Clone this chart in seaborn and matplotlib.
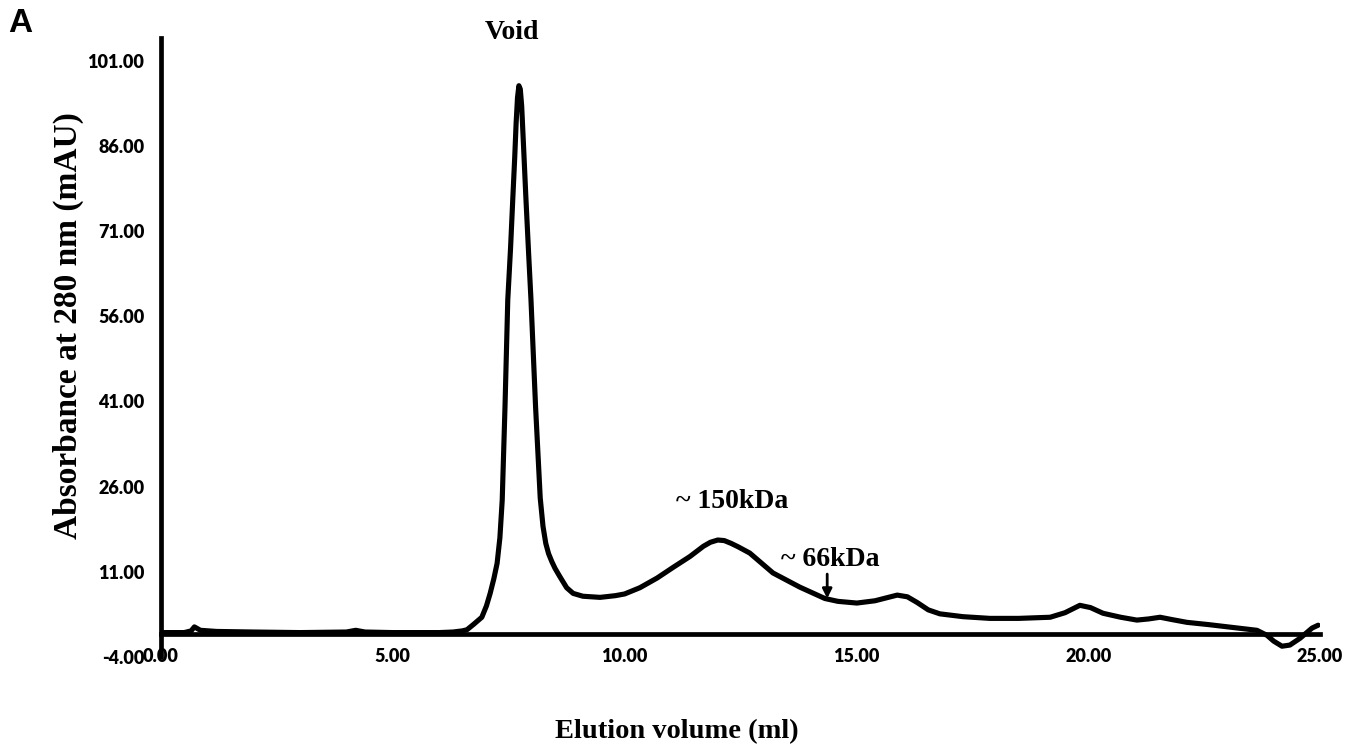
import matplotlib
matplotlib.use("Agg")
import matplotlib.pyplot as plt
import seaborn as sns
import pandas as pd

# Elution volume (ml) and absorbance (mAU)
volume = [0.0, 0.5, 0.65, 0.72, 0.85, 1.2, 2.0, 3.0, 4.0, 4.2, 4.4, 5.0, 5.5, 6.0,
          6.3, 6.5, 6.6, 6.75, 6.92, 7.02, 7.10, 7.18, 7.25, 7.31, 7.36, 7.42,
          7.48, 7.54, 7.59, 7.63, 7.66, 7.69, 7.72, 7.75, 7.78, 7.82, 7.87, 7.93,
          7.98, 8.08, 8.18, 8.24, 8.30, 8.36, 8.43, 8.50, 8.60, 8.75, 8.89, 9.10,
          9.47, 9.80, 10.0, 10.33, 10.70, 11.05, 11.41, 11.70, 11.85, 12.01, 12.15,
          12.3, 12.45, 12.70, 13.2, 13.78, 14.32, 14.6, 15.01, 15.4, 15.88, 16.1,
          16.31, 16.55, 16.80, 17.3, 17.88, 18.5, 19.18, 19.5, 19.82, 20.05, 20.32,
          20.7, 21.05, 21.3, 21.55, 21.8, 22.13, 22.6, 23.12, 23.64, 23.86, 24.0,
          24.18, 24.35, 24.57, 24.83, 24.96]
absorbance = [0.3, 0.3, 0.6, 1.3, 0.7, 0.5, 0.4, 0.3, 0.4, 0.7, 0.4, 0.3, 0.3, 0.3,
              0.4, 0.6, 0.8, 1.8, 3.0, 5.0, 7.2, 9.8, 12.5, 17.0, 23.6, 40.0,
              58.9, 68.0, 77.0, 84.0, 90.0, 94.5, 96.6, 96.0, 93.0, 86.0, 77.0, 67.0,
              59.0, 40.0, 24.0, 19.0, 16.0, 14.2, 12.8, 11.6, 10.2, 8.2, 7.2, 6.7,
              6.5, 6.8, 7.1, 8.2, 9.9, 11.8, 13.7, 15.5, 16.2, 16.6, 16.5,
              16.0, 15.4, 14.3, 10.8, 8.3, 6.3, 5.8, 5.5, 5.9, 6.9, 6.6,
              5.6, 4.3, 3.6, 3.1, 2.8, 2.8, 3.0, 3.8, 5.1, 4.7, 3.7,
              3.0, 2.5, 2.7, 3.0, 2.6, 2.1, 1.7, 1.2, 0.7, -0.2, -1.2,
              -2.1, -1.9, -0.7, 1.1, 1.6]

x_ticks = [0, 5, 10, 15, 20, 25]
y_ticks = [-4, 11, 26, 41, 56, 71, 86, 101]

annot_text = ["Void", "~ 150kDa", "~ 66kDa"]
annot_x = [7.57, 12.32, 14.43]
annot_y = [106.0, 23.3, 13.1]

df = pd.DataFrame({"volume": volume, "absorbance": absorbance})

sns.set_theme(style="white")
plt.rcParams["font.family"] = ["DejaVu Sans"]

fig = plt.figure(figsize=(13.58, 7.44), dpi=100)
ax = fig.add_axes([161 / 1358, 1 - 657 / 744, (1320 - 161) / 1358, (657 - 38) / 744])

sns.lineplot(data=df, x="volume", y="absorbance", ax=ax, color="black",
             linewidth=3.7, sort=False, estimator=None)

ax.set_xlim(0, 25)
ax.set_ylim(-4, 105)

for s in ["top", "right"]:
    ax.spines[s].set_visible(False)
ax.spines["bottom"].set_position(("data", 0))
ax.spines["left"].set_linewidth(3.4)
ax.spines["bottom"].set_linewidth(3.4)
ax.spines["left"].set_color("black")
ax.spines["bottom"].set_color("black")

ax.set_xticks(x_ticks)
ax.set_yticks(y_ticks)
ax.set_xticklabels([f"{v:.2f}" for v in x_ticks])
ax.set_yticklabels([f"{v:.2f}" for v in y_ticks])
ax.tick_params(axis="x", direction="out", length=6, width=3, pad=4, color="black")
ax.tick_params(axis="y", direction="out", length=4, width=3, pad=8, color="black")
for lab in ax.get_xticklabels() + ax.get_yticklabels():
    lab.set_fontfamily("Lato")
    lab.set_fontweight("heavy")
    lab.set_fontsize(13)
    lab.set_color("black")

ax.set_xlabel("")
ax.set_ylabel("")

serif = "Liberation Serif"
fig.text(677 / 1358, 1 - 732 / 744, "Elution volume (ml)", ha="center", va="center",
         fontsize=20.5, fontweight="bold", family=serif, color="black")
fig.text(68 / 1358, 1 - 326 / 744, "Absorbance at 280 nm (mAU)", ha="center",
         va="center", rotation=90, fontsize=24, fontweight="bold", family=serif,
         color="black")

for t, xx, yy in zip(annot_text, annot_x, annot_y):
    ax.text(xx, yy, t, ha="center", va="center", fontsize=20, fontweight="bold",
            family=serif, clip_on=False, color="black")

ax.annotate("", xy=(14.37, 6.3), xytext=(14.37, 10.6),
            arrowprops=dict(arrowstyle="-|>", color="black", lw=2,
                            mutation_scale=14, shrinkA=0, shrinkB=0))

fig.text(8 / 1358, 1 - 8 / 744, "A", ha="left", va="top", fontsize=24,
         fontweight="bold", family="Liberation Sans", color="black")

fig.savefig("out.png", dpi=100)
